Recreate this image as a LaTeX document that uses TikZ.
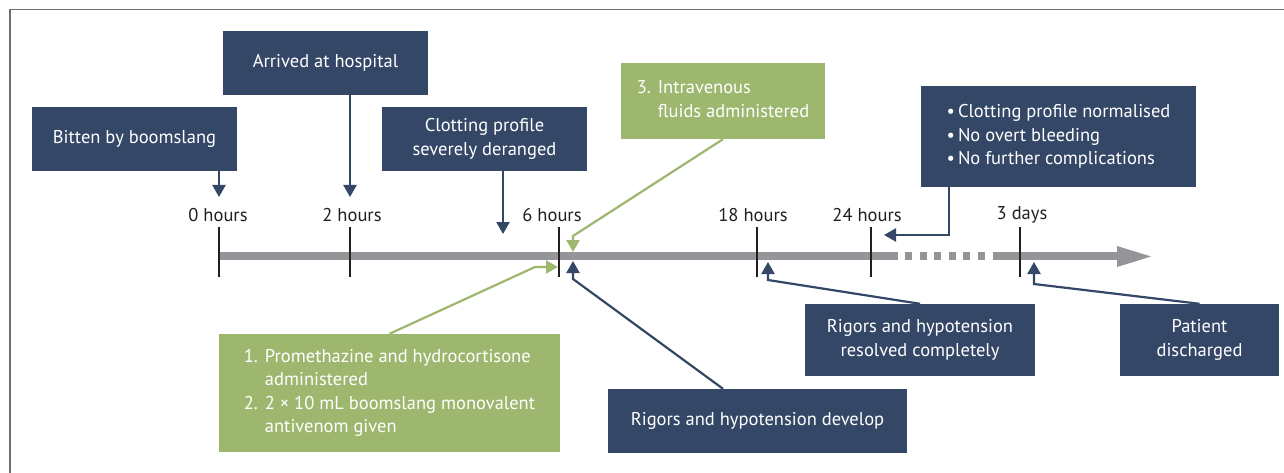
\documentclass[tikz,border=0pt]{standalone}
\usepackage{fontspec}
\setmainfont{PT Sans}
\usetikzlibrary{arrows.meta}
\definecolor{navy}{RGB}{52,71,103}
\definecolor{leaf}{RGB}{157,183,110}
\definecolor{bargray}{RGB}{147,149,152}
\definecolor{ink}{RGB}{35,31,32}
\definecolor{framegray}{RGB}{110,110,110}
\begin{document}
\begin{tikzpicture}[x=1pt,y=-1pt,
  txt/.style={font=\fontsize{18.5}{23.5}\selectfont},
  navybox/.style={txt, fill=navy, text=white, inner sep=0pt, align=center},
  greenbox/.style={txt, fill=leaf, text=white, inner sep=0pt, align=left},
  timelabel/.style={txt, text=ink, inner sep=0pt},
  tickline/.style={draw=ink, line width=2pt},
  navyarrow/.style={draw=navy, line width=2.2pt, -{Triangle[width=13pt,length=12pt]}},
  greenarrow/.style={draw=leaf, line width=2.2pt, -{Triangle[width=13pt,length=12pt]}},
  barline/.style={draw=bargray, line width=8pt}
]
\useasboundingbox (0,0) rectangle (1284,473);
\fill[white] (0,0) rectangle (1284,473);
\draw[framegray, line width=1.5pt] (10,473) -- (10,9.5) -- (1284,9.5);

% tick positions on the bar
\coordinate (t0) at (219,256);
\coordinate (t2) at (350,256);
\coordinate (t6) at (559,256);
\coordinate (t18) at (757,256);
\coordinate (t24) at (871,256);
\coordinate (t3d) at (1020,256);

% bar
\draw[barline] (219,256) -- (898,256);
\draw[barline, dash pattern=on 7.4pt off 7.1pt] (905,256) -- (986,256);
\draw[barline] (993,256) -- (1118,256);
\fill[bargray] (1117,246) -- (1151,256.5) -- (1117,267) -- cycle;

% ticks
\foreach \t in {t0,t2,t6,t18,t24,t3d}{
  \draw[tickline] ([yshift=-21pt]\t) -- ([yshift=29pt]\t);
}

% time labels
\node[timelabel] (l0) at (218,215) {0 hours};
\node[timelabel] (l2) at (352,215) {2 hours};
\node[timelabel] (l6) at (552,215) {6 hours};
\node[timelabel] (l18) at (753,215) {18 hours};
\node[timelabel] (l24) at (867,215) {24 hours};
\node[timelabel] (l3d) at (1022,215) {3 days};

% boxes
\node[navybox, minimum width=205pt, minimum height=64pt] (bitten) at (134.5,139) {Bitten by boomslang};
\node[navybox, minimum width=205pt, minimum height=64pt] (arrived) at (325.5,63) {Arrived at hospital};
\node[navybox, minimum width=205pt, minimum height=64pt] (clotting) at (484.5,139) {Clotting profile\\severely deranged};
\node[greenbox, minimum width=204pt, minimum height=76pt] (fluids) at (723,101)
  {\begin{tabular}{@{}l@{\hspace{7pt}}l@{}}3. & Intravenous\\ & fluids administered\end{tabular}};
\node[navybox, align=left, minimum width=275pt, minimum height=101pt] (normal) at (1058.5,136.5)
  {\begin{tabular}{@{}l@{\hspace{3pt}}l@{}}\textbullet & Clotting profile normalised\\ \textbullet & No overt bleeding\\ \textbullet & No further complications\end{tabular}};
\node[greenbox, minimum width=341pt, minimum height=118pt] (drugs) at (389.5,393)
  {\begin{tabular}{@{}l@{\hspace{7pt}}l@{}}1. & Promethazine and hydrocortisone\\ & administered\\ 2. & 2 × 10 mL boomslang monovalent\\ & antivenom given\end{tabular}};
\node[navybox, minimum width=299pt, minimum height=64pt] (develop) at (757.5,421) {Rigors and hypotension develop};
\node[navybox, minimum width=230pt, minimum height=72pt] (resolved) at (920,340) {Rigors and hypotension\\resolved completely};
\node[navybox, minimum width=159pt, minimum height=72pt] (patient) at (1199.5,340) {Patient\\discharged};

% arrow tips and bends
\coordinate (tipBitten) at (219,197);
\coordinate (tipArrived) at (350,197);
\coordinate (tipClot) at (503,234);
\coordinate (bendFluids) at (573,236);
\coordinate (tipFluids) at (573,252);
\coordinate (bendDrugs) at (535,267);
\coordinate (tipDrugs) at (558,267);
\coordinate (bendDevelop) at (573,279);
\coordinate (tipDevelop) at (573,261);
\coordinate (bendResolved) at (768,280);
\coordinate (tipResolved) at (768,262);
\coordinate (bendPatient) at (1034,284);
\coordinate (tipPatient) at (1034,262);
\coordinate (bendNormal) at (949,235);
\coordinate (tipNormal) at (884,235);

% connectors
\draw[navyarrow] (bitten.south -| tipBitten) -- (tipBitten);
\draw[navyarrow] (arrived.south -| tipArrived) -- (tipArrived);
\draw[navyarrow] (clotting.south -| tipClot) -- (tipClot);
\draw[greenarrow] (fluids.south) -- (bendFluids) -- (tipFluids);
\draw[greenarrow] (drugs.north) -- (bendDrugs) -- (tipDrugs);
\draw[navyarrow] ([xshift=-34.5pt]develop.north) -- (bendDevelop) -- (tipDevelop);
\draw[navyarrow] (resolved.north) -- (bendResolved) -- (tipResolved);
\draw[navyarrow] (patient.north) -- (bendPatient) -- (tipPatient);
\draw[navyarrow] (normal.south -| bendNormal) -- (bendNormal) -- (tipNormal);
\end{tikzpicture}
\end{document}
